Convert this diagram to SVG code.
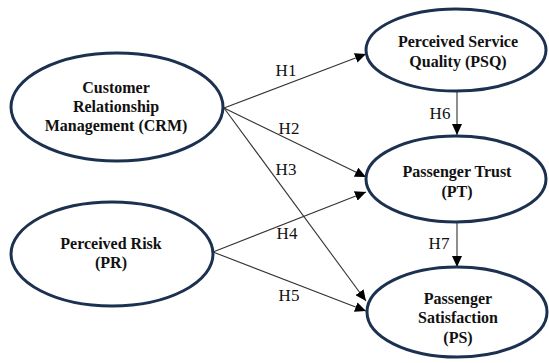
<svg xmlns="http://www.w3.org/2000/svg" width="549" height="363" viewBox="0 0 549 363">
<style>
.node ellipse{fill:#fff;stroke:#1c3150;stroke-width:3}
.node text{font-family:'Liberation Serif','Times New Roman',serif;font-weight:bold;font-size:16px;fill:#111;text-anchor:middle}
.edges line{stroke:#333;stroke-width:1.1;marker-end:url(#arr)}
.lbl{font-family:'Liberation Serif','Times New Roman',serif;font-size:17px;fill:#111;text-anchor:middle}
</style>
<defs>
<marker id="arr" markerUnits="userSpaceOnUse" markerWidth="12" markerHeight="10" refX="11" refY="5" orient="auto">
<path d="M0,0 L11,5 L0,10 z" fill="#000"/>
</marker>
</defs>
<rect width="549" height="363" fill="#fff"/>
<g class="edges">
<line x1="224" y1="108" x2="366" y2="54"/>
<line x1="224" y1="108" x2="366" y2="177"/>
<line x1="224" y1="108" x2="366" y2="301"/>
<line x1="213" y1="252" x2="366" y2="192"/>
<line x1="213" y1="252" x2="366" y2="311"/>
<line x1="457" y1="91" x2="457" y2="135"/>
<line x1="457" y1="222" x2="457" y2="267"/>
<text class="lbl" x="286" y="76">H1</text>
<text class="lbl" x="289" y="134">H2</text>
<text class="lbl" x="286" y="175">H3</text>
<text class="lbl" x="287" y="239">H4</text>
<text class="lbl" x="289" y="301">H5</text>
<text class="lbl" x="440" y="119">H6</text>
<text class="lbl" x="439" y="249">H7</text>
</g>
<g id="crm" class="node">
<ellipse cx="117" cy="107" rx="106" ry="54"/>
<text x="116" y="93">Customer</text>
<text x="116" y="112">Relationship</text>
<text x="116" y="131">Management (CRM)</text>
</g>
<g id="pr" class="node">
<ellipse cx="112" cy="254" rx="101" ry="52"/>
<text x="111" y="249">Perceived Risk</text>
<text x="111" y="268">(PR)</text>
</g>
<g id="psq" class="node">
<ellipse cx="456" cy="50" rx="90" ry="41"/>
<text x="458" y="47">Perceived Service</text>
<text x="458" y="67">Quality (PSQ)</text>
</g>
<g id="pt" class="node">
<ellipse cx="456" cy="179" rx="90" ry="43"/>
<text x="457" y="177">Passenger Trust</text>
<text x="457" y="197">(PT)</text>
</g>
<g id="ps" class="node">
<ellipse cx="457" cy="312" rx="90" ry="45"/>
<text x="458" y="304">Passenger</text>
<text x="458" y="323">Satisfaction</text>
<text x="458" y="343">(PS)</text>
</g>
</svg>
